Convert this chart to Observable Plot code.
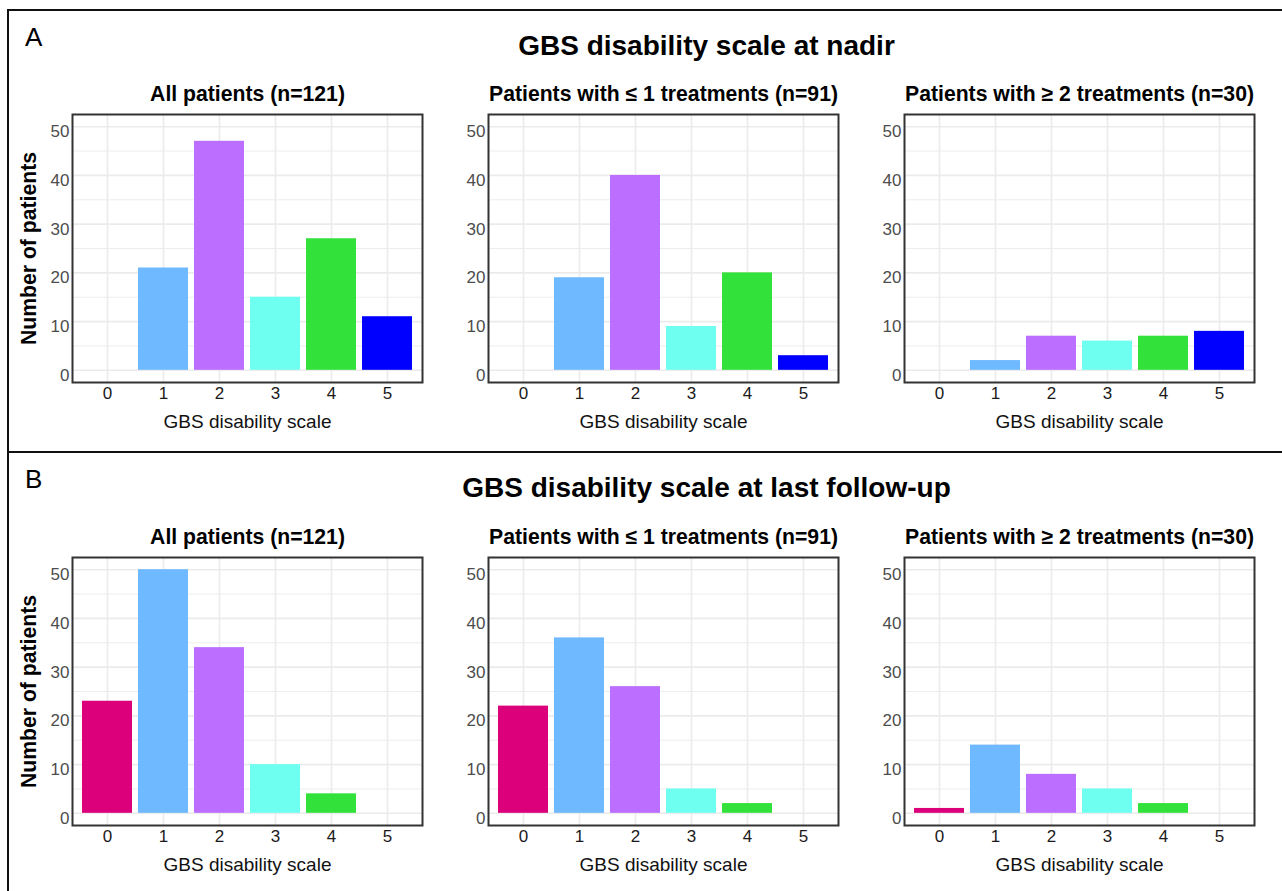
<!DOCTYPE html>
<html><head><meta charset="utf-8">
<script src="https://cdn.jsdelivr.net/npm/d3@7"></script>
<script src="https://cdn.jsdelivr.net/npm/@observablehq/plot@0.6"></script>
<style>
body{margin:0;background:#fff;font-family:"Liberation Sans",Arial,sans-serif;}
#root{position:relative;width:1282px;height:891px;overflow:hidden;background:#fff;}
.panel{position:absolute;}
</style></head><body><div id="root"></div>
<script>
// ---- data ----
const scores = [0, 1, 2, 3, 4, 5];
const scoreColors = ["#dc007a", "#6eb9ff", "#bb6eff", "#6efff0", "#32e13a", "#0000ff"];
const nadirAll  = [0, 21, 47, 15, 27, 11];
const nadirLow  = [0, 19, 40, 9, 20, 3];
const nadirHigh = [0, 2, 7, 6, 7, 8];
const lastAll   = [23, 50, 34, 10, 4, 0];
const lastLow   = [22, 36, 26, 5, 2, 0];
const lastHigh  = [1, 14, 8, 5, 2, 0];
const yTicks = [0, 10, 20, 30, 40, 50];
const yMinorTicks = [5, 15, 25, 35, 45];
const sectionLetters = ["A", "B"];
const sectionTitles = ["GBS disability scale at nadir", "GBS disability scale at last follow-up"];
const panelTitles = ["All patients (n=121)", "Patients with \u2264 1 treatments (n=91)", "Patients with \u2265 2 treatments (n=30)"];
const xLabel = "GBS disability scale";
const yLabel = "Number of patients";

const FONT = "'Liberation Sans', Arial, sans-serif";
const root = document.getElementById("root");

// ---- overlay: borders, section letters and titles ----
const ov = d3.select(root).append("svg")
  .attr("width", 1282).attr("height", 891)
  .style("position", "absolute").style("left", 0).style("top", 0)
  .style("font-family", FONT);
ov.append("line").attr("x1", 8).attr("x2", 1282).attr("y1", 10).attr("y2", 10).attr("stroke", "#111").attr("stroke-width", 2);
ov.append("line").attr("x1", 8).attr("x2", 8).attr("y1", 9).attr("y2", 891).attr("stroke", "#111").attr("stroke-width", 2);
ov.append("line").attr("x1", 8).attr("x2", 1282).attr("y1", 452).attr("y2", 452).attr("stroke", "#111").attr("stroke-width", 2);
const sectionShift = 442;
sectionLetters.forEach((L, i) => {
  ov.append("text").attr("x", 25).attr("y", 46 + i * sectionShift).attr("font-size", 26).attr("fill", "#000").text(L);
  ov.append("text").attr("x", 706.5).attr("y", 55 + i * sectionShift).attr("text-anchor", "middle")
    .attr("font-size", 28).attr("font-weight", "bold").attr("fill", "#000").text(sectionTitles[i]);
});

// ---- panels ----
function panel(counts, title, showY) {
  const data = scores.map((s, i) => ({score: s, n: counts[i], color: scoreColors[i]}));
  return Plot.plot({
    width: 420, height: 364,
    marginLeft: 66, marginRight: 4, marginTop: 40, marginBottom: 56,
    style: {background: "transparent", overflow: "visible", fontFamily: FONT, fontSize: "17px"},
    x: {type: "band", domain: scores, paddingInner: 0.1, paddingOuter: 0.15},
    y: {domain: [-2.5, 52.5]},
    marks: [
      Plot.gridY(yMinorTicks, {stroke: "#ededed", strokeOpacity: 1, strokeWidth: 1}),
      Plot.gridY(yTicks, {stroke: "#ebebeb", strokeOpacity: 1, strokeWidth: 1.6}),
      Plot.gridX(scores, {stroke: "#ebebeb", strokeOpacity: 1, strokeWidth: 1.6}),
      Plot.barY(data, {x: "score", y: "n", fill: "color"}),
      Plot.frame({stroke: "#333", strokeWidth: 2}),
      Plot.axisY(yTicks, {tickSize: 0, tickPadding: 3, label: null, fontSize: 17, color: "#4d4d4d", dy: 5}),
      Plot.axisX(scores, {tickSize: 0, tickPadding: 4, label: null, fontSize: 17, color: "#1a1a1a"}),
      Plot.text([xLabel], {frameAnchor: "bottom", lineAnchor: "bottom", dy: 45, fontSize: 19, fill: "#111"}),
      Plot.text([title], {frameAnchor: "top", textAnchor: "middle", lineAnchor: "bottom", dy: -14, fontSize: 21.2, fontWeight: "bold", fill: "#000"}),
      showY ? Plot.text([yLabel], {frameAnchor: "left", textAnchor: "middle", lineAnchor: "bottom", rotate: -90, dx: -37, fontSize: 21.2, fontWeight: "bold", fill: "#000"}) : null
    ]
  });
}

const rows = [[nadirAll, nadirLow, nadirHigh], [lastAll, lastLow, lastHigh]];
const frameLefts = [72.3, 488.3, 904];
const frameTops = [114, 556.5];
rows.forEach((row, r) => {
  row.forEach((counts, c) => {
    const el = panel(counts, panelTitles[c], c === 0);
    el.classList.add("panel");
    el.style.position = "absolute";
    el.style.left = (frameLefts[c] - 66) + "px";
    el.style.top = (frameTops[r] - 40) + "px";
    root.appendChild(el);
  });
});
</script>
</body></html>
